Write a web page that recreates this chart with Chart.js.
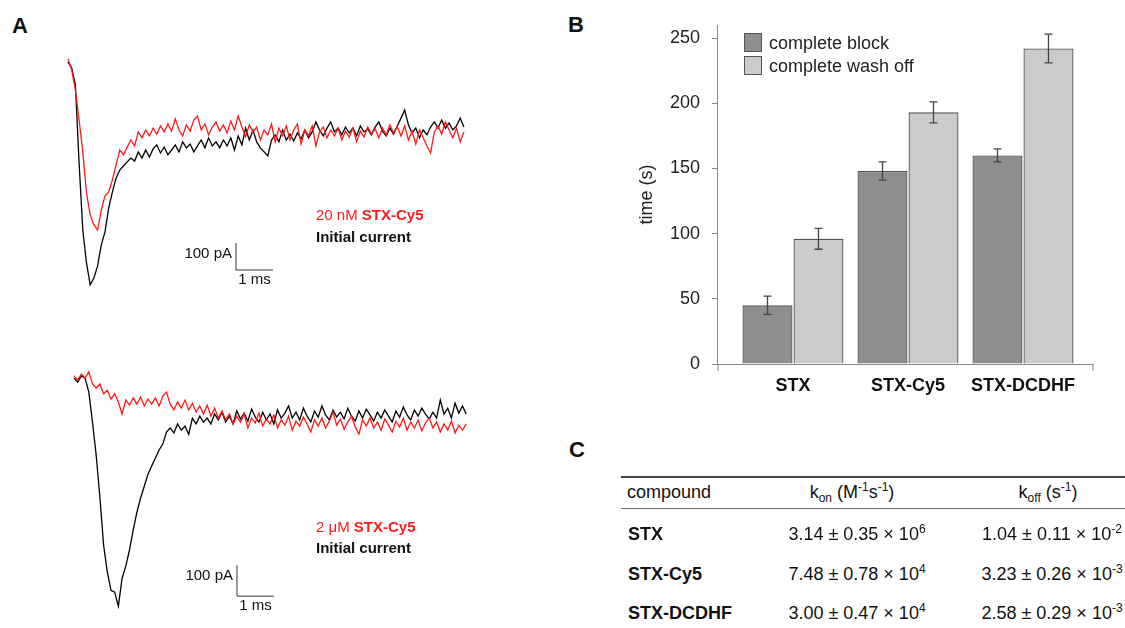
<!DOCTYPE html>
<html>
<head>
<meta charset="utf-8">
<script src="https://cdn.jsdelivr.net/npm/chart.js@4.4.1/dist/chart.umd.min.js"></script>
<style>
  body{margin:0;width:1125px;height:628px;position:relative;overflow:hidden;background:#fff;
       font-family:'Liberation Sans',Arial,Helvetica,sans-serif;color:#111}
  .box{position:absolute}
  .letter{position:absolute;font-weight:bold;font-size:22px;line-height:22px}
  .lbl{position:absolute;font-size:15px;line-height:18px;white-space:nowrap}
  .red{color:#ff1a1a}
  .rule{position:absolute;left:621px;width:504px;background:#444}
  .cell{position:absolute;font-size:18px;line-height:20px;white-space:nowrap}
  .cell sup,.cell sub{font-size:12px;line-height:0}
  .cell sup{vertical-align:7px}
  .cell sub{vertical-align:-4px}
  .leg{position:absolute;left:744px;font-size:18px;line-height:20px;color:#222;white-space:nowrap}
  .leg i{display:inline-block;width:16px;height:17px;border:1px solid #555;vertical-align:top;margin-right:7px}
</style>
</head>
<body>
<div class="letter" style="left:12px;top:15px">A</div>
<div class="letter" style="left:568px;top:14px">B</div>
<div class="letter" style="left:569px;top:439px">C</div>

<div class="box" style="left:60px;top:40px;width:420px;height:270px"><canvas id="ch-top"></canvas></div>
<div class="box" style="left:60px;top:340px;width:420px;height:280px"><canvas id="ch-bot"></canvas></div>
<div class="lbl red" style="left:316px;top:206px">20 nM <b>STX-Cy5</b></div>
<div class="lbl" style="left:316px;top:228px"><b>Initial current</b></div>
<div class="lbl red" style="left:316px;top:518px">2 &mu;M <b>STX-Cy5</b></div>
<div class="lbl" style="left:316px;top:539px"><b>Initial current</b></div>

<div class="box" style="left:600px;top:0;width:525px;height:400px"><canvas id="ch-bars"></canvas></div>
<div id="legend"></div>

<div class="rule" style="top:476px;height:1.5px"></div>
<div class="rule" style="top:508px;height:1px;background:#666"></div>
<div id="table"></div>

<script>
'use strict';

/* ── Panel A: Na current traces, sampled every 0.1 ms (values in pA, 0 = late baseline) ── */
const dtMs = 0.1;
const initTop = [263,240,178,-111,-359,-481,-562,-537,-492,-414,
  -366,-278,-218,-167,-137,-122,-107,-93,-104,-70,
  -93,-63,-89,-59,-44,-74,-52,-81,-63,-44,
  -70,-33,-55,-41,-70,-48,-26,-55,-18,-48,
  -33,-55,-26,-48,-18,-63,-11,-44,18,-26,
  11,-33,-55,-70,-85,-26,-7,-33,11,-26,
  -4,-30,0,-22,11,-18,4,41,11,-11,
  18,41,4,18,-7,22,0,18,-11,26,
  4,15,-7,22,41,7,-11,18,-4,26,
  55,85,30,0,18,-18,11,-7,22,41,
  18,48,18,37,11,26,55,22];
const cy5Top = [274,233,159,48,-70,-222,-303,-340,-359,-285,
  -233,-218,-174,-118,-63,-81,-52,-26,-48,4,
  -18,11,-11,18,-4,26,4,33,7,52,
  11,-11,30,7,48,63,11,33,-7,22,
  41,7,30,0,44,11,63,22,-15,30,
  4,22,-26,11,-7,33,-33,18,-11,26,
  -26,11,33,-41,11,-11,26,-48,4,22,
  -18,11,-11,18,-26,7,-15,18,-33,7,
  -15,22,-4,15,-18,18,-7,30,0,22,
  -11,26,-26,7,-41,11,-18,-48,-74,4,
  26,-4,41,11,-18,18,-33,4];
const initBot = [129,116,136,129,84,-13,-120,-255,-410,-497,
  -556,-562,-607,-517,-478,-426,-362,-304,-258,-220,
  -181,-155,-129,-103,-84,-45,-32,-48,-19,-39,
  -26,-52,0,-19,6,-13,0,-19,13,-6,
  19,-13,6,-19,23,-3,16,-10,29,3,
  -13,19,-6,13,-19,26,0,16,39,0,
  19,-6,32,6,-13,23,3,39,10,-6,
  26,3,19,-3,32,6,-10,23,0,29,
  10,-10,19,0,26,6,-13,23,3,36,
  10,-6,26,6,32,13,-3,19,0,58,
  13,32,0,48,16,39,13];
const cy5Bot = [136,123,142,129,149,110,97,110,78,90,
  61,78,52,13,58,42,65,45,68,39,
  61,45,65,39,71,84,45,26,52,32,
  58,26,48,19,39,13,42,6,32,0,
  23,-6,13,-19,6,-13,13,-32,0,-16,
  16,-26,-3,-19,10,-32,-6,-23,6,-39,
  -10,-26,3,-19,-45,-6,-26,0,-32,-10,
  19,-23,-3,-36,-13,6,-29,-52,-6,-26,
  0,-32,-13,-39,-3,-23,-45,-10,-29,0,
  -39,-13,-32,-6,-42,-16,0,-32,-13,-45,
  -19,-39,-10,-48,-23,-39,-19];

/* ── Panel B: time to complete block / wash off (s) ── */
const compounds = ['STX','STX-Cy5','STX-DCDHF'];
const blockTime = [45, 148, 160];
const blockErr  = [7, 7, 5];
const washTime  = [96, 193, 242];
const washErr   = [8, 8, 11];

/* ── Panel C: rate constants ── */
const konMean  = [3.14, 7.48, 3.00];
const konErr   = [0.35, 0.78, 0.47];
const konExp   = [6, 4, 4];
const koffMean = [1.04, 3.23, 2.58];
const koffErr  = [0.11, 0.26, 0.29];
const koffExp  = [-2, -3, -3];

const FONT = "'Liberation Sans', Arial, Helvetica, sans-serif";
Chart.defaults.font.family = FONT;
Chart.defaults.animation = false;

const toXY = arr => arr.map((v,i)=>({x:+(i*dtMs).toFixed(2), y:v}));

// L-shaped scale bar, placed in data units
const scaleBar = {
  id:'scaleBar',
  afterDraw(chart, args, o) {
    const {ctx, scales:{x, y}} = chart;
    const x0 = x.getPixelForValue(o.t), x1 = x.getPixelForValue(o.t + o.ms);
    const y0 = y.getPixelForValue(o.i), y1 = y.getPixelForValue(o.i + o.pA);
    ctx.save();
    ctx.strokeStyle = '#333'; ctx.lineWidth = 1;
    ctx.beginPath(); ctx.moveTo(x0, y1); ctx.lineTo(x0, y0); ctx.lineTo(x1, y0); ctx.stroke();
    ctx.fillStyle = '#111'; ctx.font = '15px ' + FONT; ctx.textBaseline = 'middle';
    ctx.textAlign = 'right';  ctx.fillText(`${o.pA} pA`, x0 - 4, y1 + 10.5);
    ctx.textAlign = 'center'; ctx.fillText(`${o.ms} ms`, (x0 + x1) / 2, y0 + 10);
    ctx.restore();
  }
};

function traceChart(id, init, cy5, xr, yr, bar) {
  return new Chart(document.getElementById(id), {
    type:'line',
    data:{datasets:[
      {label:'STX-Cy5', data:toXY(cy5), borderColor:'#ff1a1a', borderWidth:1.3, pointRadius:0, tension:0},
      {label:'Initial current', data:toXY(init), borderColor:'#000', borderWidth:1.3, pointRadius:0, tension:0}
    ]},
    options:{responsive:true, maintainAspectRatio:false,
      plugins:{legend:{display:false}, tooltip:{enabled:false}, scaleBar:bar},
      scales:{x:{type:'linear', display:false, min:xr[0], max:xr[1]},
              y:{display:false, min:yr[0], max:yr[1]}}},
    plugins:[scaleBar]
  });
}

traceChart('ch-top', initTop, cy5Top, [-0.216, 11.135], [-655, 344], {t:4.54, i:-507, ms:1, pA:100});
traceChart('ch-bot', initBot, cy5Bot, [-0.378, 10.973], [-652, 252], {t:4.405, i:-575, ms:1, pA:100});

// error bars + axis end ticks for the bar chart
const errorBars = {
  id:'errorBars',
  afterDatasetsDraw(chart, args, o) {
    const {ctx, scales:{x, y}} = chart;
    ctx.save();
    ctx.strokeStyle = '#444'; ctx.lineWidth = 1.3;
    o.errors.forEach((errs, di) => {
      chart.getDatasetMeta(di).data.forEach((bar, j) => {
        const v = chart.data.datasets[di].data[j].y;
        const top = y.getPixelForValue(v + errs[j]), bot = y.getPixelForValue(v - errs[j]);
        ctx.beginPath();
        ctx.moveTo(bar.x, top); ctx.lineTo(bar.x, bot);
        ctx.moveTo(bar.x - o.cap, top); ctx.lineTo(bar.x + o.cap, top);
        ctx.moveTo(bar.x - o.cap, bot); ctx.lineTo(bar.x + o.cap, bot);
        ctx.stroke();
      });
    });
    ctx.strokeStyle = '#888'; ctx.lineWidth = 1;
    ctx.beginPath();
    [x.left + 1, x.right].forEach(px => { ctx.moveTo(px, y.bottom); ctx.lineTo(px, y.bottom + 7); });
    ctx.stroke();
    ctx.restore();
  }
};

const barSeries = [
  {label:'complete block', vals:blockTime, errs:blockErr, fill:'#8e8e8e'},
  {label:'complete wash off', vals:washTime, errs:washErr, fill:'#cbcbcb'}
];

new Chart(document.getElementById('ch-bars'), {
  type:'bar',
  data:{datasets:barSeries.map(s=>({
    label:s.label, data:compounds.map((c,i)=>({x:i+1, y:s.vals[i]})),
    backgroundColor:s.fill, borderColor:'#505050', borderWidth:1.3,
    categoryPercentage:0.887, barPercentage:0.98
  }))},
  options:{responsive:true, maintainAspectRatio:false,
    layout:{padding:{top:25, right:32, left:0, bottom:0}},
    plugins:{legend:{display:false}, tooltip:{enabled:false},
             errorBars:{errors:barSeries.map(s=>s.errs), cap:4}},
    scales:{
      x:{type:'linear', offset:false, min:0.339, max:3.609,
         grid:{display:false}, border:{color:'#8a8a8a'},
         ticks:{stepSize:1, includeBounds:false, autoSkip:false, maxRotation:0, padding:3, color:'#111',
                font:{size:18, weight:'bold'},
                callback:v => Number.isInteger(v) && compounds[v-1] ? compounds[v-1] : null},
         afterFit:s => { s.height = 36; }},
      y:{min:0, max:260,
         ticks:{stepSize:50, includeBounds:false, padding:12, color:'#222', font:{size:18}},
         grid:{drawOnChartArea:false, tickLength:5, color:'#888'},
         border:{color:'#8a8a8a'},
         title:{display:true, text:'time (s)', color:'#222', font:{size:18}, padding:{top:36, bottom:0}},
         afterFit:s => { s.width = 117; }}
    }},
  plugins:[errorBars]
});

// legend for panel B
document.getElementById('legend').innerHTML = barSeries.map((s,i)=>
  `<div class="leg" style="top:${33 + i*23}px"><i style="background:${s.fill}"></i>${s.label}</div>`).join('');

// table for panel C
const sci = (m, e, p) => `${m.toFixed(2)} &plusmn; ${e.toFixed(2)} &times; 10<sup>${p}</sup>`;
const rowTop = [524, 564, 603];
let html = `<div class="cell" style="left:627px;top:482px">compound</div>
  <div class="cell" style="left:752px;top:482px;width:200px;text-align:center">k<sub>on</sub> (M<sup>-1</sup>s<sup>-1</sup>)</div>
  <div class="cell" style="left:948px;top:482px;width:200px;text-align:center">k<sub>off</sub> (s<sup>-1</sup>)</div>`;
compounds.forEach((c,i)=>{
  html += `<div class="cell" style="left:628px;top:${rowTop[i]}px;font-weight:bold">${c}</div>
    <div class="cell" style="left:757px;top:${rowTop[i]}px;width:200px;text-align:center">${sci(konMean[i], konErr[i], konExp[i])}</div>
    <div class="cell" style="left:952px;top:${rowTop[i]}px;width:200px;text-align:center">${sci(koffMean[i], koffErr[i], koffExp[i])}</div>`;
});
document.getElementById('table').innerHTML = html;
</script>
</body>
</html>
